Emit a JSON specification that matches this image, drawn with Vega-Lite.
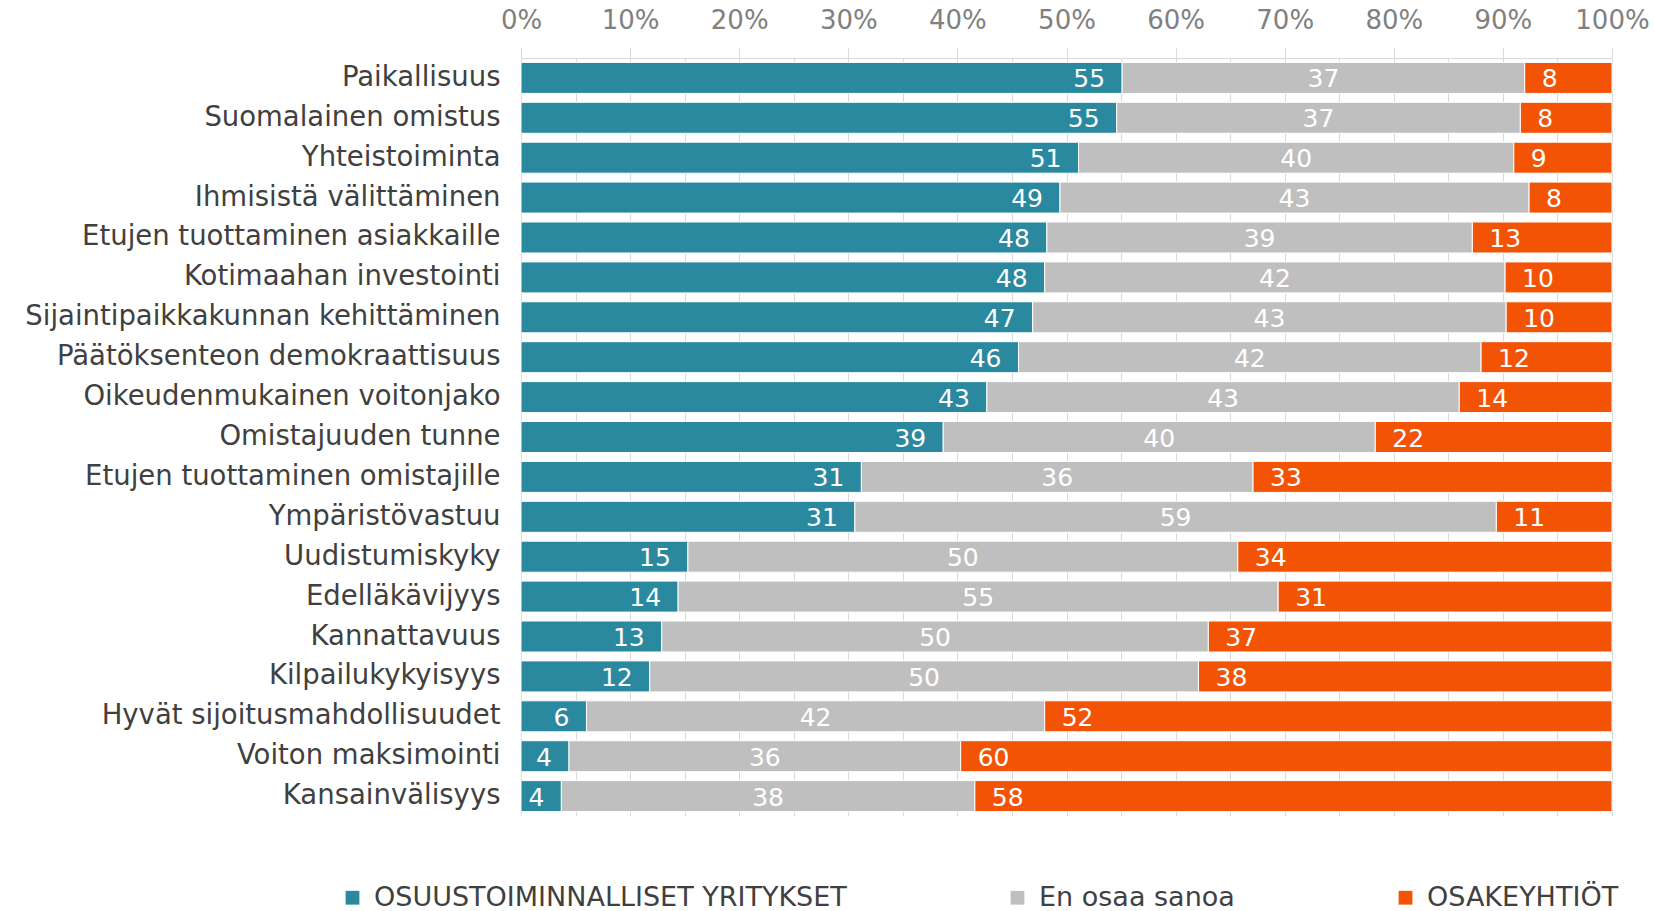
{
  "$schema": "https://vega.github.io/schema/vega-lite/v6.json",
  "width": 1091,
  "height": 758,
  "autosize": "none",
  "padding": {"left": 521, "top": 58, "right": 43, "bottom": 95},
  "background": "white",
  "config": {"view": {"stroke": null}, "font": "DejaVu Sans"},
  "data": {
    "values": [
      {"ominaisuus": "Paikallisuus", "sarja": "OSUUSTOIMINNALLISET YRITYKSET", "j": 1, "arvo": 55.1},
      {"ominaisuus": "Paikallisuus", "sarja": "En osaa sanoa", "j": 2, "arvo": 36.9},
      {"ominaisuus": "Paikallisuus", "sarja": "OSAKEYHTIÖT", "j": 3, "arvo": 8.0},
      {"ominaisuus": "Suomalainen omistus", "sarja": "OSUUSTOIMINNALLISET YRITYKSET", "j": 1, "arvo": 54.6},
      {"ominaisuus": "Suomalainen omistus", "sarja": "En osaa sanoa", "j": 2, "arvo": 37.0},
      {"ominaisuus": "Suomalainen omistus", "sarja": "OSAKEYHTIÖT", "j": 3, "arvo": 8.4},
      {"ominaisuus": "Yhteistoiminta", "sarja": "OSUUSTOIMINNALLISET YRITYKSET", "j": 1, "arvo": 51.1},
      {"ominaisuus": "Yhteistoiminta", "sarja": "En osaa sanoa", "j": 2, "arvo": 39.9},
      {"ominaisuus": "Yhteistoiminta", "sarja": "OSAKEYHTIÖT", "j": 3, "arvo": 9.0},
      {"ominaisuus": "Ihmisistä välittäminen", "sarja": "OSUUSTOIMINNALLISET YRITYKSET", "j": 1, "arvo": 49.4},
      {"ominaisuus": "Ihmisistä välittäminen", "sarja": "En osaa sanoa", "j": 2, "arvo": 43.0},
      {"ominaisuus": "Ihmisistä välittäminen", "sarja": "OSAKEYHTIÖT", "j": 3, "arvo": 7.6},
      {"ominaisuus": "Etujen tuottaminen asiakkaille", "sarja": "OSUUSTOIMINNALLISET YRITYKSET", "j": 1, "arvo": 48.2},
      {"ominaisuus": "Etujen tuottaminen asiakkaille", "sarja": "En osaa sanoa", "j": 2, "arvo": 39.0},
      {"ominaisuus": "Etujen tuottaminen asiakkaille", "sarja": "OSAKEYHTIÖT", "j": 3, "arvo": 12.8},
      {"ominaisuus": "Kotimaahan investointi", "sarja": "OSUUSTOIMINNALLISET YRITYKSET", "j": 1, "arvo": 48.0},
      {"ominaisuus": "Kotimaahan investointi", "sarja": "En osaa sanoa", "j": 2, "arvo": 42.2},
      {"ominaisuus": "Kotimaahan investointi", "sarja": "OSAKEYHTIÖT", "j": 3, "arvo": 9.8},
      {"ominaisuus": "Sijaintipaikkakunnan kehittäminen", "sarja": "OSUUSTOIMINNALLISET YRITYKSET", "j": 1, "arvo": 46.9},
      {"ominaisuus": "Sijaintipaikkakunnan kehittäminen", "sarja": "En osaa sanoa", "j": 2, "arvo": 43.4},
      {"ominaisuus": "Sijaintipaikkakunnan kehittäminen", "sarja": "OSAKEYHTIÖT", "j": 3, "arvo": 9.7},
      {"ominaisuus": "Päätöksenteon demokraattisuus", "sarja": "OSUUSTOIMINNALLISET YRITYKSET", "j": 1, "arvo": 45.6},
      {"ominaisuus": "Päätöksenteon demokraattisuus", "sarja": "En osaa sanoa", "j": 2, "arvo": 42.4},
      {"ominaisuus": "Päätöksenteon demokraattisuus", "sarja": "OSAKEYHTIÖT", "j": 3, "arvo": 12.0},
      {"ominaisuus": "Oikeudenmukainen voitonjako", "sarja": "OSUUSTOIMINNALLISET YRITYKSET", "j": 1, "arvo": 42.7},
      {"ominaisuus": "Oikeudenmukainen voitonjako", "sarja": "En osaa sanoa", "j": 2, "arvo": 43.3},
      {"ominaisuus": "Oikeudenmukainen voitonjako", "sarja": "OSAKEYHTIÖT", "j": 3, "arvo": 14.0},
      {"ominaisuus": "Omistajuuden tunne", "sarja": "OSUUSTOIMINNALLISET YRITYKSET", "j": 1, "arvo": 38.7},
      {"ominaisuus": "Omistajuuden tunne", "sarja": "En osaa sanoa", "j": 2, "arvo": 39.6},
      {"ominaisuus": "Omistajuuden tunne", "sarja": "OSAKEYHTIÖT", "j": 3, "arvo": 21.7},
      {"ominaisuus": "Etujen tuottaminen omistajille", "sarja": "OSUUSTOIMINNALLISET YRITYKSET", "j": 1, "arvo": 31.2},
      {"ominaisuus": "Etujen tuottaminen omistajille", "sarja": "En osaa sanoa", "j": 2, "arvo": 35.9},
      {"ominaisuus": "Etujen tuottaminen omistajille", "sarja": "OSAKEYHTIÖT", "j": 3, "arvo": 32.9},
      {"ominaisuus": "Ympäristövastuu", "sarja": "OSUUSTOIMINNALLISET YRITYKSET", "j": 1, "arvo": 30.6},
      {"ominaisuus": "Ympäristövastuu", "sarja": "En osaa sanoa", "j": 2, "arvo": 58.8},
      {"ominaisuus": "Ympäristövastuu", "sarja": "OSAKEYHTIÖT", "j": 3, "arvo": 10.6},
      {"ominaisuus": "Uudistumiskyky", "sarja": "OSUUSTOIMINNALLISET YRITYKSET", "j": 1, "arvo": 15.3},
      {"ominaisuus": "Uudistumiskyky", "sarja": "En osaa sanoa", "j": 2, "arvo": 50.4},
      {"ominaisuus": "Uudistumiskyky", "sarja": "OSAKEYHTIÖT", "j": 3, "arvo": 34.3},
      {"ominaisuus": "Edelläkävijyys", "sarja": "OSUUSTOIMINNALLISET YRITYKSET", "j": 1, "arvo": 14.4},
      {"ominaisuus": "Edelläkävijyys", "sarja": "En osaa sanoa", "j": 2, "arvo": 55.0},
      {"ominaisuus": "Edelläkävijyys", "sarja": "OSAKEYHTIÖT", "j": 3, "arvo": 30.6},
      {"ominaisuus": "Kannattavuus", "sarja": "OSUUSTOIMINNALLISET YRITYKSET", "j": 1, "arvo": 12.9},
      {"ominaisuus": "Kannattavuus", "sarja": "En osaa sanoa", "j": 2, "arvo": 50.1},
      {"ominaisuus": "Kannattavuus", "sarja": "OSAKEYHTIÖT", "j": 3, "arvo": 37.0},
      {"ominaisuus": "Kilpailukykyisyys", "sarja": "OSUUSTOIMINNALLISET YRITYKSET", "j": 1, "arvo": 11.8},
      {"ominaisuus": "Kilpailukykyisyys", "sarja": "En osaa sanoa", "j": 2, "arvo": 50.3},
      {"ominaisuus": "Kilpailukykyisyys", "sarja": "OSAKEYHTIÖT", "j": 3, "arvo": 37.9},
      {"ominaisuus": "Hyvät sijoitusmahdollisuudet", "sarja": "OSUUSTOIMINNALLISET YRITYKSET", "j": 1, "arvo": 6.0},
      {"ominaisuus": "Hyvät sijoitusmahdollisuudet", "sarja": "En osaa sanoa", "j": 2, "arvo": 42.0},
      {"ominaisuus": "Hyvät sijoitusmahdollisuudet", "sarja": "OSAKEYHTIÖT", "j": 3, "arvo": 52.0},
      {"ominaisuus": "Voiton maksimointi", "sarja": "OSUUSTOIMINNALLISET YRITYKSET", "j": 1, "arvo": 4.4},
      {"ominaisuus": "Voiton maksimointi", "sarja": "En osaa sanoa", "j": 2, "arvo": 35.9},
      {"ominaisuus": "Voiton maksimointi", "sarja": "OSAKEYHTIÖT", "j": 3, "arvo": 59.7},
      {"ominaisuus": "Kansainvälisyys", "sarja": "OSUUSTOIMINNALLISET YRITYKSET", "j": 1, "arvo": 3.7},
      {"ominaisuus": "Kansainvälisyys", "sarja": "En osaa sanoa", "j": 2, "arvo": 37.9},
      {"ominaisuus": "Kansainvälisyys", "sarja": "OSAKEYHTIÖT", "j": 3, "arvo": 58.4}
    ]
  },
  "encoding": {
    "y": {
      "field": "ominaisuus",
      "type": "nominal",
      "sort": null,
      "scale": {"paddingInner": 0.223, "paddingOuter": 0.11},
      "axis": {
        "title": null,
        "labelFont": "DejaVu Sans",
        "labelFontSize": 27.5,
        "labelColor": "#404040",
        "labelPadding": 21,
        "ticks": false,
        "tickSize": 0,
        "domain": false,
        "labelLimit": 700
      }
    }
  },
  "layer": [
    {
      "mark": {"type": "bar", "stroke": "white", "strokeWidth": 1},
      "encoding": {
        "x": {
          "field": "arvo",
          "type": "quantitative",
          "stack": "zero",
          "scale": {"domain": [0, 100], "nice": false},
          "axis": {
            "orient": "top",
            "title": null,
            "values": [0, 5, 10, 15, 20, 25, 30, 35, 40, 45, 50, 55, 60, 65, 70, 75, 80, 85, 90, 95, 100],
            "labelExpr": "datum.value % 10 === 0 ? datum.value + '%' : ''",
            "labelFont": "DejaVu Sans",
            "labelFontSize": 26,
            "labelColor": "#808080",
            "labelPadding": 15,
            "labelFlush": false,
            "labelOverlap": false,
            "tickSize": 10,
            "tickColor": "#d9d9d9",
            "tickOpacity": {"condition": {"test": "datum.value % 10 === 0", "value": 1}, "value": 0},
            "grid": true,
            "gridColor": "#d9d9d9",
            "gridWidth": 1,
            "domainColor": "#d9d9d9"
          }
        },
        "color": {
          "field": "sarja",
          "type": "nominal",
          "scale": {
            "domain": ["OSUUSTOIMINNALLISET YRITYKSET", "En osaa sanoa", "OSAKEYHTIÖT"],
            "range": ["#2A899F", "#BFBFBF", "#F25305"]
          },
          "legend": {
            "orient": "none",
            "legendX": -182,
            "legendY": 826,
            "direction": "horizontal",
            "title": null,
            "symbolType": "square",
            "symbolSize": 190,
            "symbolStrokeWidth": 0,
            "labelFont": "DejaVu Sans",
            "labelFontSize": 27,
            "labelColor": "#404040",
            "labelOffset": 8,
            "labelLimit": 800,
            "columnPadding": 157,
            "padding": 0
          }
        },
        "order": {"field": "j", "type": "quantitative"}
      }
    },
    {
      "mark": {"type": "text", "align": "right", "baseline": "middle", "dx": -17, "dy": 1.5, "color": "white", "fontSize": 25, "font": "DejaVu Sans"},
      "encoding": {
        "x": {"field": "arvo", "type": "quantitative", "stack": "zero", "bandPosition": 1, "title": null},
        "detail": {"field": "sarja"},
        "order": {"field": "j", "type": "quantitative"},
        "text": {"field": "arvo", "type": "quantitative", "format": ".0f"},
        "opacity": {"condition": {"test": "datum.j === 1", "value": 1}, "value": 0}
      }
    },
    {
      "mark": {"type": "text", "align": "center", "baseline": "middle", "dy": 1.5, "color": "white", "fontSize": 25, "font": "DejaVu Sans"},
      "encoding": {
        "x": {"field": "arvo", "type": "quantitative", "stack": "zero", "bandPosition": 0.5, "title": null},
        "detail": {"field": "sarja"},
        "order": {"field": "j", "type": "quantitative"},
        "text": {"field": "arvo", "type": "quantitative", "format": ".0f"},
        "opacity": {"condition": {"test": "datum.j === 2", "value": 1}, "value": 0}
      }
    },
    {
      "mark": {"type": "text", "align": "left", "baseline": "middle", "dx": 17, "dy": 1.5, "color": "white", "fontSize": 25, "font": "DejaVu Sans"},
      "encoding": {
        "x": {"field": "arvo", "type": "quantitative", "stack": "zero", "bandPosition": 0, "title": null},
        "detail": {"field": "sarja"},
        "order": {"field": "j", "type": "quantitative"},
        "text": {"field": "arvo", "type": "quantitative", "format": ".0f"},
        "opacity": {"condition": {"test": "datum.j === 3", "value": 1}, "value": 0}
      }
    }
  ]
}
